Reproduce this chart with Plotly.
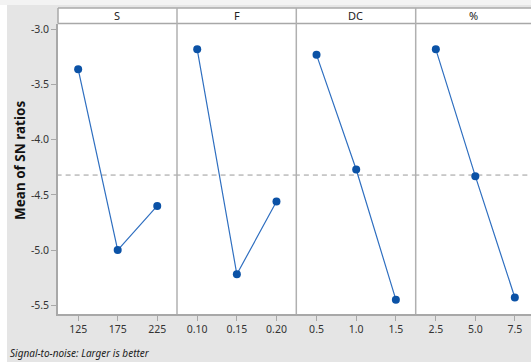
import plotly.graph_objects as go
from plotly.subplots import make_subplots

factors = ["S", "F", "DC", "%"]
levels = [["125", "175", "225"], ["0.10", "0.15", "0.20"], ["0.5", "1.0", "1.5"], ["2.5", "5.0", "7.5"]]
sn_S = [-3.36, -5.00, -4.60]
sn_F = [-3.18, -5.22, -4.56]
sn_DC = [-3.23, -4.27, -5.45]
sn_P = [-3.18, -4.33, -5.43]
series = [sn_S, sn_F, sn_DC, sn_P]
overall_mean = -4.32
y_ticks = [-3.0, -3.5, -4.0, -4.5, -5.0, -5.5]
y_ticktext = ["-3.0", "-3.5", "-4.0", "-4.5", "-5.0", "-5.5"]

W, H = 531, 362
L, R, T, B = 58, 0, 24, 48
pw = W - L - R
ph = H - T - B
def px(x):
    return (x - L) / pw
def py(y):
    return (H - B - y) / ph

edges = [57.5, 177, 296.3, 415.7, 531]
domains = [[px(edges[i]) if i else 0, px(edges[i + 1]) if i < 3 else 1] for i in range(4)]

fig = make_subplots(rows=1, cols=4, shared_yaxes=True, horizontal_spacing=0)

line_col = "#2f6fc0"
mark_col = "#0b52a6"
for i, vals in enumerate(series):
    fig.add_trace(go.Scatter(
        x=[0, 4], y=[overall_mean, overall_mean], mode="lines",
        line=dict(color="#9a9a9a", width=1, dash="5px,4px"),
        showlegend=False, hoverinfo="skip"), row=1, col=i + 1)
    fig.add_trace(go.Scatter(
        x=[1, 2, 3], y=vals, mode="lines+markers",
        line=dict(color=line_col, width=1.2),
        marker=dict(color=mark_col, size=8),
        showlegend=False, hoverinfo="skip"), row=1, col=i + 1)

tick_font = dict(family="Noto Sans", size=10.5, color="#333333")
for i in range(4):
    rng = [0.49, 3.5] if i < 3 else [0.49, 3.41]
    fig.update_xaxes(
        domain=domains[i], range=rng, tickvals=[1, 2, 3], ticktext=levels[i],
        showgrid=False, zeroline=False, showline=True, linecolor="#a8a8a8", linewidth=1.5,
        ticks="outside", ticklen=5, tickcolor="#a8a8a8", tickfont=tick_font,
        mirror=False, row=1, col=i + 1)
fig.update_yaxes(
    range=[-5.58, -2.95], tickvals=y_ticks, ticktext=y_ticktext,
    showgrid=False, zeroline=False, showline=True, linecolor="#a8a8a8", linewidth=1.5,
    ticks="outside", ticklen=5, tickcolor="#a8a8a8", tickfont=tick_font,
    row=1, col=1)

shapes = []
# white left strip and top strip (outside gray panel)
shapes.append(dict(type="rect", xref="paper", yref="paper", x0=px(-2), x1=px(7), y0=py(H + 2), y1=py(-2),
                   fillcolor="white", line=dict(width=0), layer="below"))
shapes.append(dict(type="rect", xref="paper", yref="paper", x0=px(-2), x1=1.01, y0=py(5), y1=py(-2),
                   fillcolor="#f3f3f3", line=dict(width=0), layer="below"))
# white header area
shapes.append(dict(type="rect", xref="paper", yref="paper", x0=0, x1=1.01, y0=1, y1=py(8),
                   fillcolor="white", line=dict(width=0), layer="below"))
# header lines
for yy in [8, 23.5]:
    shapes.append(dict(type="line", xref="paper", yref="paper", x0=0, x1=1, y0=py(yy), y1=py(yy),
                       line=dict(color="#a8a8a8", width=1.5)))
shapes.append(dict(type="line", xref="paper", yref="paper", x0=0, x1=0, y0=py(8), y1=py(23.5),
                   line=dict(color="#a8a8a8", width=1.5)))
for e in edges[1:4]:
    shapes.append(dict(type="line", xref="paper", yref="paper", x0=px(e), x1=px(e), y0=0, y1=py(8),
                       line=dict(color="#b0b0b0", width=1.5)))

annotations = []
for i, f in enumerate(factors):
    cx = (edges[i] + min(edges[i + 1], edges[i] + 119)) / 2
    annotations.append(dict(text=f, xref="paper", yref="paper", x=px(cx), y=py(15.8),
                            showarrow=False, xanchor="center", yanchor="middle",
                            font=dict(family="Noto Sans", size=11, color="#222222")))
annotations.append(dict(text="<b>Mean of SN ratios</b>", xref="paper", yref="paper", x=px(20), y=py(161),
                        textangle=-90, showarrow=False, xanchor="center", yanchor="middle",
                        font=dict(family="Noto Sans", size=13.5, color="#111111")))
annotations.append(dict(text="<i>Signal-to-noise: Larger is better</i>", xref="paper", yref="paper",
                        x=px(8), y=py(353), showarrow=False, xanchor="left", yanchor="middle",
                        font=dict(family="Noto Sans", size=10, color="#222222")))

fig.update_layout(
    width=W, height=H, margin=dict(l=L, r=R, t=T, b=B),
    paper_bgcolor="#e5e5e5", plot_bgcolor="white",
    shapes=shapes, annotations=annotations,
)
fig.write_html("out.html", config={"displayModeBar": False},
               post_script="document.body.style.margin='0';document.body.style.overflow='hidden';")
